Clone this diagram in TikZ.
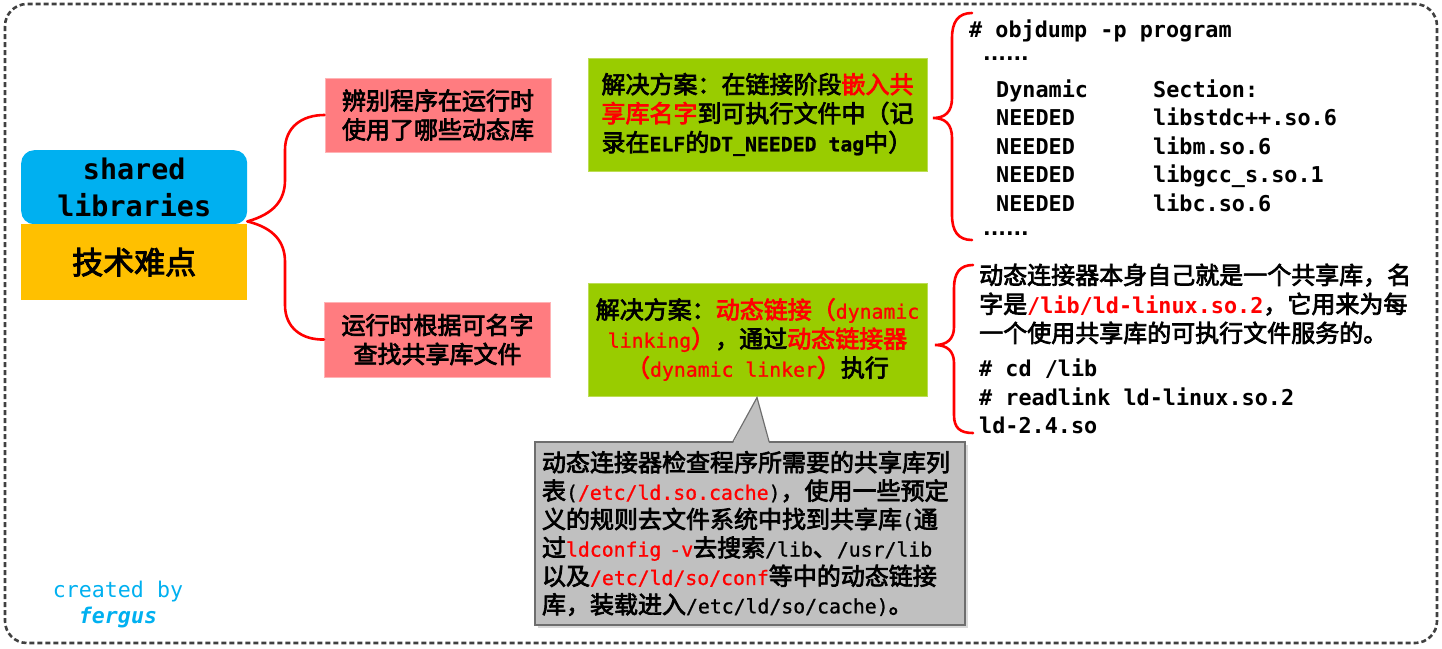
\documentclass[tikz,border=0pt]{standalone}
\usepackage{fontspec}
\setmainfont{Noto Sans CJK SC}[FakeBold=3]
\setmonofont{DejaVu Sans Mono}
\newfontfamily\hwfont{DejaVu Sans Mono}[FakeBold=1]
\newfontfamily\dotfont{DejaVu Sans}
\usetikzlibrary{calc}
\definecolor{cblue}{HTML}{00B0F0}
\definecolor{corange}{HTML}{FFC000}
\definecolor{cpink}{HTML}{FF7C80}
\definecolor{cpinkb}{HTML}{FFB3B5}
\definecolor{cgreen}{HTML}{99CC00}
\definecolor{cgreenb}{HTML}{BCDD55}
\definecolor{cred}{HTML}{FF0000}
\definecolor{cgray}{HTML}{C0C0C0}
\definecolor{cgrayb}{HTML}{6E6E6E}
\definecolor{cframe}{HTML}{404040}
\newcommand\fsA{\fontsize{24}{29}\selectfont}
\newcommand\fsB{\fontsize{24}{28.4}\selectfont}
\newcommand\fsCode{\ttfamily\bfseries\fontsize{21.8}{26}\selectfont}
\newcommand\hw[1]{{\hwfont\fontsize{19.8}{28.4}\selectfont #1}}
\newcommand\hwb[1]{{\hwfont\bfseries\fontsize{19.8}{29}\selectfont #1}}
\begin{document}
\begin{tikzpicture}[x=1pt,y=-1pt,
  redline/.style={draw=cred, line width=2.6pt, line cap=round},
  pinkbox/.style={fill=cpink, draw=cpinkb, line width=1pt, minimum width=226pt, minimum height=74pt, inner sep=0pt, align=center, font=\fsA},
  greenbox/.style={fill=cgreen, draw=cgreenb, line width=1pt, minimum width=339pt, minimum height=113pt, inner sep=0pt, font=\fsA},
  codet/.style={anchor=base west, inner sep=0pt, font=\fsCode},
  cjkt/.style={anchor=base west, inner sep=0pt, font=\fsA},
  dotst/.style={anchor=base west, inner sep=0pt, font=\dotfont\bfseries\fontsize{20}{24}\selectfont},
  frameline/.style={draw=cframe, line width=2.6pt, dash pattern=on 5pt off 3pt, rounded corners=22pt}
]
\useasboundingbox (0,0) rectangle (1442,648);
\draw[frameline] (5,4) rectangle (1437,643);

% central topic
\node[fill=cblue, rounded corners=13pt, minimum width=226pt, minimum height=74pt, inner sep=0pt, anchor=north west, align=center, font=\ttfamily\bfseries\fontsize{28.4}{37}\selectfont] (title) at (21,150) {shared\\libraries};
\node[fill=corange, minimum width=226pt, minimum height=76pt, inner sep=0pt, anchor=north west, font=\fontsize{31}{36}\selectfont] (hard) at (21,224) {技术难点};

% questions
\node[pinkbox] (q1) at (438,115) {辨别程序在运行时\\使用了哪些动态库};
\node[pinkbox, minimum height=75pt] (q2) at (437.5,339.5) {运行时根据可名字\\查找共享库文件};

\coordinate (j) at ($(title.south east)+(0,-3)$);
\draw[redline] (j) .. controls (274,214) and (285,200) .. (285,180) -- (285,150) .. controls (285,127) and (302,115) .. (q1.west);
\draw[redline] (j) .. controls (274,228) and (285,242) .. (285,262) -- (285,305) .. controls (285,328) and (302,340) .. (q2.west);

% solutions
\node[greenbox, align=left] (g1) at (757.5,114.5) {解决方案：在链接阶段\textcolor{cred}{嵌入共}\\\textcolor{cred}{享库名字}到可执行文件中（记\\录在\hwb{ELF}的\hwb{DT\_NEEDED tag}中）};
\node[greenbox, align=center] (g2) at (757.5,339.5) {解决方案：\textcolor{cred}{动态链接（\hw{dynamic}}\\\textcolor{cred}{\hw{linking}）}，通过\textcolor{cred}{动态链接器}\\\textcolor{cred}{（\hw{dynamic linker}）}执行};

% brace 1
\coordinate (b1tip) at (933,118);
\coordinate (b1top) at (972,13);
\coordinate (b1bot) at (972,240);
\draw[redline] (b1top) .. controls (958,13) and (952,22) .. (952,38) -- (952,98) .. controls (952,112) and (945,118) .. (b1tip) .. controls (945,118) and (952,124) .. (952,138) -- (952,215) .. controls (952,231) and (958,240) .. (b1bot);

\node[codet] (o1) at (969,37) {\# objdump -p program};
\node[dotst] (o2) at (983,60) {......};
\node[codet] (o3a) at (996,97) {Dynamic};
\node[codet] (o3b) at (1153,97) {Section:};
\node[codet] (o4a) at (996,125) {NEEDED};
\node[codet] (o4b) at (1153,125) {libstdc++.so.6};
\node[codet] (o5a) at (996,154) {NEEDED};
\node[codet] (o5b) at (1153,154) {libm.so.6};
\node[codet] (o6a) at (996,182) {NEEDED};
\node[codet] (o6b) at (1153,182) {libgcc\_s.so.1};
\node[codet] (o7a) at (996,211) {NEEDED};
\node[codet] (o7b) at (1153,211) {libc.so.6};
\node[dotst] (o8) at (983,235) {......};

% brace 2
\coordinate (b2tip) at (935,345);
\coordinate (b2top) at (973,265);
\coordinate (b2bot) at (973,433);
\draw[redline] (b2top) .. controls (960,265) and (954,273) .. (954,288) -- (954,327) .. controls (954,339) and (947,345) .. (b2tip) .. controls (947,345) and (954,351) .. (954,363) -- (954,415) .. controls (954,428) and (960,433) .. (b2bot);

\node[cjkt] (d1) at (979,284) {动态连接器本身自己就是一个共享库，名};
\node[cjkt] (d2) at (979,313) {字是\textcolor{cred}{\fsCode /lib/ld-linux.so.2}，它用来为每};
\node[cjkt] (d3) at (979,342) {一个使用共享库的可执行文件服务的。};
\node[codet] (d4) at (979,376) {\# cd /lib};
\node[codet] (d5) at (979,405) {\# readlink ld-linux.so.2};
\node[codet] (d6) at (979,433) {ld-2.4.so};

% callout
\fill[black, opacity=0.15] (538,445) rectangle (968,628);
\node[fill=cgray, draw=cgrayb, line width=1.2pt, minimum width=430pt, minimum height=183pt, text width=416pt, align=left, inner sep=0pt, font=\fsB] (note) at (750,533.5) {动态连接器检查程序所需要的共享库列\\表\hw{(}\textcolor{cred}{\hw{/etc/ld.so.cache}}\hw{)}，使用一些预定\\义的规则去文件系统中找到共享库\hw{(}通\\过\textcolor{cred}{\hw{ldconfig -v}}去搜索\hw{/lib}、\hw{/usr/lib}\\以及\textcolor{cred}{\hw{/etc/ld/so/conf}}等中的动态链接\\库，装载进入\hw{/etc/ld/so/cache)}。};
\coordinate (ptip) at ($(g2.south)+(-0.5,1)$);
\fill[cgray] ($(note.north)+(-17,2)$) -- (ptip) -- ($(note.north)+(19,2)$) -- cycle;
\draw[cgrayb, line width=1.2pt] ($(note.north)+(-17,0)$) -- (ptip) -- ($(note.north)+(19,0)$);

% signature
\node[font=\ttfamily\fontsize{21.6}{26}\selectfont, text=cblue, anchor=base, inner sep=0pt] (cb) at (118,597) {created by};
\node[font=\ttfamily\bfseries\itshape\fontsize{21.6}{26}\selectfont, text=cblue, anchor=base, inner sep=0pt] (fg) at (118,623) {fergus};
\end{tikzpicture}
\end{document}
